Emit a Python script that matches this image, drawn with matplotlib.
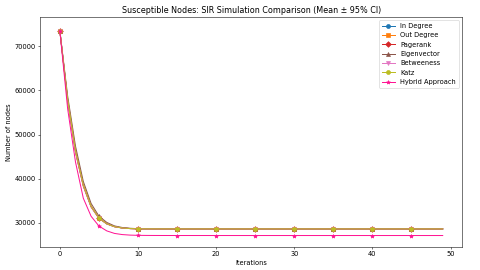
import matplotlib
matplotlib.use("Agg")
import matplotlib.pyplot as plt
import numpy as np

# ---- data ----
iterations = list(range(50))

in_degree = [
    73500, 57800, 46200, 38500, 33700, 31100, 29800, 29150, 28850, 28720,
    28670, 28660, 28655, 28650, 28650, 28650, 28648, 28648, 28647, 28647,
    28646, 28646, 28646, 28645, 28645, 28645, 28645, 28645, 28645, 28645,
    28645, 28645, 28645, 28645, 28645, 28645, 28645, 28645, 28645, 28645,
    28645, 28645, 28645, 28645, 28645, 28645, 28645, 28645, 28645, 28645,
]
out_degree = [
    73500, 58000, 46500, 38700, 33800, 31150, 29820, 29160, 28860, 28725,
    28672, 28661, 28656, 28651, 28650, 28650, 28649, 28648, 28647, 28647,
    28646, 28646, 28646, 28646, 28645, 28645, 28645, 28645, 28645, 28645,
    28645, 28645, 28645, 28645, 28645, 28645, 28645, 28645, 28645, 28645,
    28645, 28645, 28645, 28645, 28645, 28645, 28645, 28645, 28645, 28645,
]
pagerank = [
    73500, 57600, 46000, 38300, 33600, 31050, 29780, 29140, 28845, 28718,
    28668, 28658, 28654, 28650, 28649, 28649, 28648, 28647, 28647, 28646,
    28646, 28646, 28645, 28645, 28645, 28645, 28645, 28645, 28645, 28645,
    28645, 28645, 28645, 28645, 28645, 28645, 28645, 28645, 28645, 28645,
    28645, 28645, 28645, 28645, 28645, 28645, 28645, 28645, 28645, 28645,
]
eigenvector = [
    73500, 58700, 47400, 39400, 34400, 31550, 30120, 29320, 28960, 28790,
    28700, 28672, 28662, 28656, 28653, 28651, 28650, 28649, 28648, 28647,
    28647, 28646, 28646, 28646, 28645, 28645, 28645, 28645, 28645, 28645,
    28645, 28645, 28645, 28645, 28645, 28645, 28645, 28645, 28645, 28645,
    28645, 28645, 28645, 28645, 28645, 28645, 28645, 28645, 28645, 28645,
]
betweeness = [
    73500, 57700, 46100, 38400, 33650, 31080, 29790, 29145, 28848, 28719,
    28669, 28659, 28655, 28650, 28650, 28649, 28648, 28648, 28647, 28647,
    28646, 28646, 28646, 28645, 28645, 28645, 28645, 28645, 28645, 28645,
    28645, 28645, 28645, 28645, 28645, 28645, 28645, 28645, 28645, 28645,
    28645, 28645, 28645, 28645, 28645, 28645, 28645, 28645, 28645, 28645,
]
katz = [
    73500, 57900, 46300, 38600, 33750, 31120, 29810, 29155, 28855, 28722,
    28671, 28660, 28655, 28651, 28650, 28650, 28648, 28648, 28647, 28647,
    28646, 28646, 28646, 28645, 28645, 28645, 28645, 28645, 28645, 28645,
    28645, 28645, 28645, 28645, 28645, 28645, 28645, 28645, 28645, 28645,
    28645, 28645, 28645, 28645, 28645, 28645, 28645, 28645, 28645, 28645,
]
hybrid = [
    73500, 55800, 43800, 35600, 31500, 29300, 28200, 27620, 27360, 27240,
    27190, 27170, 27160, 27155, 27152, 27150, 27150, 27149, 27149, 27148,
    27148, 27148, 27147, 27147, 27147, 27147, 27147, 27147, 27147, 27147,
    27147, 27147, 27147, 27147, 27147, 27147, 27147, 27147, 27147, 27147,
    27147, 27147, 27147, 27147, 27147, 27147, 27147, 27147, 27147, 27147,
]

series_names = ["In Degree", "Out Degree", "Pagerank", "Eigenvector",
                "Betweeness", "Katz", "Hybrid Approach"]
series_values = [in_degree, out_degree, pagerank, eigenvector,
                 betweeness, katz, hybrid]
series_colors = ["#1f77b4", "#ff7f0e", "#d62728", "#8c564b",
                 "#e377c2", "#bcbd22", "#ff1493"]
series_markers = ["o", "s", "D", "^", "v", "o", "*"]

fig = plt.figure(figsize=(10, 5.625), dpi=48)
ax = fig.add_axes([0.084, 0.086, 0.879, 0.851])

for name, vals, col, mk in zip(series_names, series_values, series_colors, series_markers):
    ax.plot(iterations, vals, color=col, marker=mk, markevery=5,
            markersize=6, linewidth=1.5, label=name)

ax.set_title("Susceptible Nodes: SIR Simulation Comparison (Mean \u00b1 95% CI)", fontsize=12)
ax.set_xlabel("Iterations")
ax.set_ylabel("Number of nodes")
ax.set_xlim(-2.5, 51.5)
ax.set_ylim(24600, 76600)
ax.set_xticks([0, 10, 20, 30, 40, 50])
ax.set_yticks([30000, 40000, 50000, 60000, 70000])
ax.legend(loc="upper right")

fig.savefig("out.png", dpi=48)
